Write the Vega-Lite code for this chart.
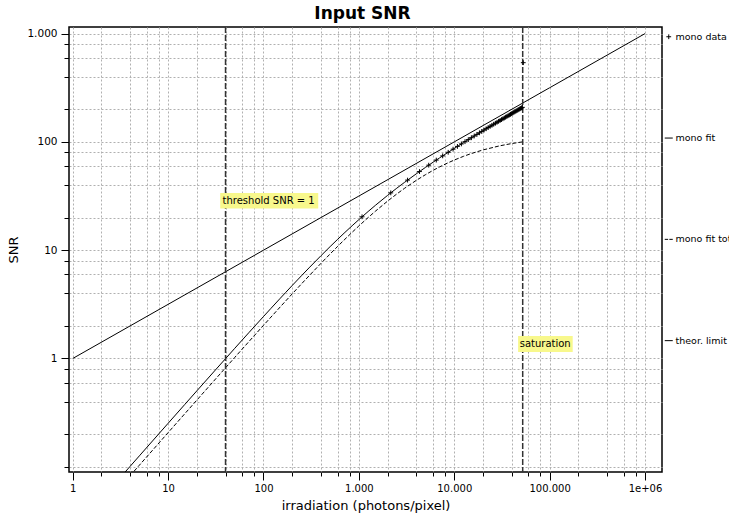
{
  "$schema": "https://vega.github.io/schema/vega-lite/v6.json",
  "autosize": {"type": "none"},
  "padding": {"left": 69, "top": 27, "right": 67, "bottom": 46},
  "width": 593,
  "height": 445,
  "title": {"text": "Input SNR", "fontSize": 17, "fontWeight": "bold", "anchor": "middle", "offset": 3, "dx": -3, "color": "#000"},
  "config": {
    "font": "DejaVu Sans",
    "view": {"stroke": "#000", "strokeWidth": 1.5},
    "axis": {
      "domain": false,
      "grid": true,
      "gridColor": "#b0b0b0",
      "gridDash": [2, 2],
      "gridWidth": 1,
      "tickColor": "#000",
      "tickWidth": 1,
      "labelColor": "#000",
      "titleColor": "#000",
      "labelFontSize": 10.5,
      "titleFontSize": 13,
      "titleFontWeight": "normal",
      "labelOverlap": false,
      "labelFlush": false,
      "labelBound": false
    },
    "legend": {
      "orient": "right",
      "offset": -3,
      "padding": 5,
      "rowPadding": 90.3,
      "symbolSize": 64,
      "symbolStrokeWidth": 1,
      "symbolStrokeColor": "#000",
      "labelFontSize": 9.5,
      "labelOffset": 2,
      "labelLimit": 300,
      "labelColor": "#000"
    }
  },
  "datasets": {
    "theory": [
      {"x": 1, "snr": 1},
      {"x": 10, "snr": 3.162},
      {"x": 100, "snr": 10},
      {"x": 1000, "snr": 31.62},
      {"x": 10000, "snr": 100},
      {"x": 100000, "snr": 316.2},
      {"x": 1000000, "snr": 1000}
    ],
    "fit": [
      {"x": 3, "snr": 0.0758},
      {"x": 4, "snr": 0.101},
      {"x": 5, "snr": 0.1262},
      {"x": 7, "snr": 0.1766},
      {"x": 10, "snr": 0.252},
      {"x": 15, "snr": 0.3773},
      {"x": 20, "snr": 0.5022},
      {"x": 30, "snr": 0.7505},
      {"x": 50, "snr": 1.2418},
      {"x": 70, "snr": 1.7262},
      {"x": 100, "snr": 2.4403},
      {"x": 120, "snr": 2.9083},
      {"x": 150, "snr": 3.5987},
      {"x": 170, "snr": 4.0514},
      {"x": 200, "snr": 4.7198},
      {"x": 250, "snr": 5.8066},
      {"x": 300, "snr": 6.8612},
      {"x": 400, "snr": 8.882},
      {"x": 500, "snr": 10.797},
      {"x": 600, "snr": 12.619},
      {"x": 700, "snr": 14.358},
      {"x": 850, "snr": 16.828},
      {"x": 1000, "snr": 19.154},
      {"x": 1250, "snr": 22.759},
      {"x": 1500, "snr": 26.083},
      {"x": 2000, "snr": 32.073},
      {"x": 2500, "snr": 37.393},
      {"x": 3000, "snr": 42.21},
      {"x": 4000, "snr": 50.742},
      {"x": 5000, "snr": 58.214},
      {"x": 6000, "snr": 64.928},
      {"x": 7000, "snr": 71.066},
      {"x": 8500, "snr": 79.447},
      {"x": 10000, "snr": 87.068},
      {"x": 12500, "snr": 98.52},
      {"x": 15000, "snr": 108.81},
      {"x": 20000, "snr": 126.95},
      {"x": 30000, "snr": 157.14},
      {"x": 40000, "snr": 182.43},
      {"x": 52000, "snr": 208.79}
    ],
    "fitTotal": [
      {"x": 3, "snr": 0.0621},
      {"x": 4, "snr": 0.0828},
      {"x": 5, "snr": 0.1035},
      {"x": 7, "snr": 0.1448},
      {"x": 10, "snr": 0.2067},
      {"x": 15, "snr": 0.3097},
      {"x": 20, "snr": 0.4124},
      {"x": 30, "snr": 0.6171},
      {"x": 50, "snr": 1.0235},
      {"x": 70, "snr": 1.4259},
      {"x": 100, "snr": 2.0222},
      {"x": 120, "snr": 2.415},
      {"x": 150, "snr": 2.9974},
      {"x": 170, "snr": 3.381},
      {"x": 200, "snr": 3.9498},
      {"x": 250, "snr": 4.8806},
      {"x": 300, "snr": 5.7906},
      {"x": 400, "snr": 7.5516},
      {"x": 500, "snr": 9.239},
      {"x": 600, "snr": 10.858},
      {"x": 700, "snr": 12.413},
      {"x": 850, "snr": 14.638},
      {"x": 1000, "snr": 16.742},
      {"x": 1250, "snr": 20.012},
      {"x": 1500, "snr": 23.022},
      {"x": 2000, "snr": 28.396},
      {"x": 2500, "snr": 33.07},
      {"x": 3000, "snr": 37.19},
      {"x": 4000, "snr": 44.153},
      {"x": 5000, "snr": 49.849},
      {"x": 6000, "snr": 54.619},
      {"x": 7000, "snr": 58.685},
      {"x": 8500, "snr": 63.79},
      {"x": 10000, "snr": 67.995},
      {"x": 12500, "snr": 73.59},
      {"x": 15000, "snr": 77.942},
      {"x": 20000, "snr": 84.306},
      {"x": 30000, "snr": 92.025},
      {"x": 40000, "snr": 96.555},
      {"x": 51840, "snr": 99.98}
    ],
    "monoData": [
      {"x": 1080, "snr": 20.34, "series": "mono data"},
      {"x": 2160, "snr": 33.84, "series": "mono data"},
      {"x": 3240, "snr": 44.38, "series": "mono data"},
      {"x": 4320, "snr": 53.23, "series": "mono data"},
      {"x": 5400, "snr": 60.98, "series": "mono data"},
      {"x": 6480, "snr": 67.94, "series": "mono data"},
      {"x": 7560, "snr": 74.3, "series": "mono data"},
      {"x": 8640, "snr": 80.19, "series": "mono data"},
      {"x": 9720, "snr": 85.7, "series": "mono data"},
      {"x": 10800, "snr": 90.88, "series": "mono data"},
      {"x": 11880, "snr": 95.8, "series": "mono data"},
      {"x": 12960, "snr": 100.49, "series": "mono data"},
      {"x": 14040, "snr": 104.97, "series": "mono data"},
      {"x": 15120, "snr": 109.28, "series": "mono data"},
      {"x": 16200, "snr": 113.42, "series": "mono data"},
      {"x": 17280, "snr": 117.42, "series": "mono data"},
      {"x": 18360, "snr": 121.3, "series": "mono data"},
      {"x": 19440, "snr": 125.05, "series": "mono data"},
      {"x": 20520, "snr": 128.69, "series": "mono data"},
      {"x": 21600, "snr": 132.24, "series": "mono data"},
      {"x": 22680, "snr": 135.7, "series": "mono data"},
      {"x": 23760, "snr": 139.07, "series": "mono data"},
      {"x": 24840, "snr": 142.36, "series": "mono data"},
      {"x": 25920, "snr": 145.58, "series": "mono data"},
      {"x": 27000, "snr": 148.72, "series": "mono data"},
      {"x": 28080, "snr": 151.81, "series": "mono data"},
      {"x": 29160, "snr": 154.83, "series": "mono data"},
      {"x": 30240, "snr": 157.8, "series": "mono data"},
      {"x": 31320, "snr": 160.71, "series": "mono data"},
      {"x": 32400, "snr": 163.57, "series": "mono data"},
      {"x": 33480, "snr": 166.38, "series": "mono data"},
      {"x": 34560, "snr": 169.14, "series": "mono data"},
      {"x": 35640, "snr": 171.86, "series": "mono data"},
      {"x": 36720, "snr": 174.54, "series": "mono data"},
      {"x": 37800, "snr": 177.18, "series": "mono data"},
      {"x": 38880, "snr": 179.78, "series": "mono data"},
      {"x": 39960, "snr": 182.34, "series": "mono data"},
      {"x": 41040, "snr": 184.86, "series": "mono data"},
      {"x": 42120, "snr": 187.36, "series": "mono data"},
      {"x": 43200, "snr": 189.82, "series": "mono data"},
      {"x": 44280, "snr": 192.25, "series": "mono data"},
      {"x": 45360, "snr": 194.64, "series": "mono data"},
      {"x": 46440, "snr": 197.01, "series": "mono data"},
      {"x": 47520, "snr": 199.36, "series": "mono data"},
      {"x": 48600, "snr": 201.67, "series": "mono data"},
      {"x": 49680, "snr": 203.96, "series": "mono data"},
      {"x": 50760, "snr": 206.22, "series": "mono data"},
      {"x": 51840, "snr": 208.46, "series": "mono data"},
      {"x": 52920, "snr": 539, "series": "mono data"}
    ],
    "markers": [
      {"name": "threshold SNR = 1", "x": 40},
      {"name": "saturation", "x": 52200}
    ]
  },
  "encoding": {
    "x": {
      "field": "x",
      "type": "quantitative",
      "scale": {"type": "log", "domain": [0.914, 1507000], "nice": false},
      "axis": {
        "title": "irradiation (photons/pixel)",
        "values": [1, 2, 4, 6, 8, 10, 20, 40, 60, 80, 100, 200, 400, 600, 800, 1000, 2000, 4000, 6000, 8000, 10000, 20000, 40000, 60000, 80000, 100000, 200000, 400000, 600000, 800000, 1000000],
        "labelExpr": "datum.value == 1 ? '1' : datum.value == 10 ? '10' : datum.value == 100 ? '100' : datum.value == 1000 ? '1.000' : datum.value == 10000 ? '10.000' : datum.value == 100000 ? '100.000' : datum.value == 1000000 ? '1e+06' : ''",
        "tickSize": {"condition": {"test": "indexof([1, 10, 100, 1000, 10000, 100000, 1000000], datum.value) >= 0", "value": 8}, "value": 4},
        "labelFontSize": 10,
        "labelPadding": 3,
        "titlePadding": 6
      }
    }
  },
  "layer": [
    {
      "data": {"name": "theory"},
      "mark": {"type": "line", "color": "#000", "strokeWidth": 1, "clip": true},
      "encoding": {
        "y": {
          "field": "snr",
          "type": "quantitative",
          "scale": {"type": "log", "domain": [0.0895, 1151], "nice": false},
          "axis": {
            "title": "SNR",
            "values": [0.1, 0.2, 0.4, 0.6, 0.8, 1, 2, 4, 6, 8, 10, 20, 40, 60, 80, 100, 200, 400, 600, 800, 1000],
            "labelExpr": "datum.value == 1 ? '1' : datum.value == 10 ? '10' : datum.value == 100 ? '100' : datum.value == 1000 ? '1.000' : ''",
            "tickSize": {"condition": {"test": "indexof([1, 10, 100, 1000], datum.value) >= 0", "value": 8}, "value": 5},
            "labelPadding": 4,
            "titlePadding": 6
          }
        }
      }
    },
    {
      "data": {"name": "fit"},
      "mark": {"type": "line", "color": "#000", "strokeWidth": 1, "clip": true},
      "encoding": {
        "y": {"field": "snr", "type": "quantitative", "scale": {"type": "log", "domain": [0.0895, 1151], "nice": false}, "axis": {"title": "SNR"}}
      }
    },
    {
      "data": {"name": "fitTotal"},
      "mark": {"type": "line", "color": "#000", "strokeWidth": 1, "strokeDash": [4, 2], "clip": true},
      "encoding": {
        "y": {"field": "snr", "type": "quantitative", "scale": {"type": "log", "domain": [0.0895, 1151], "nice": false}, "axis": {"title": "SNR"}}
      }
    },
    {
      "data": {"name": "markers"},
      "mark": {"type": "rule", "color": "#333", "strokeWidth": 1.5, "strokeDash": [6, 2]},
      "encoding": {}
    },
    {
      "data": {"name": "markers"},
      "transform": [{"filter": "datum.name == 'threshold SNR = 1'"}],
      "mark": {"type": "point", "shape": "M-0.53,-0.77H9.27V0.77H-0.53Z", "size": 400, "filled": true, "color": "#f8f88c", "opacity": 1, "strokeWidth": 0},
      "encoding": {
        "y": {"datum": 28.6, "type": "quantitative", "scale": {"type": "log", "domain": [0.0895, 1151], "nice": false}, "axis": {"title": "SNR"}}
      }
    },
    {
      "data": {"name": "markers"},
      "transform": [{"filter": "datum.name == 'threshold SNR = 1'"}],
      "mark": {"type": "text", "align": "left", "baseline": "middle", "dx": -3, "fontSize": 10, "color": "#000"},
      "encoding": {
        "y": {"datum": 28.6, "type": "quantitative", "scale": {"type": "log", "domain": [0.0895, 1151], "nice": false}, "axis": {"title": "SNR"}},
        "text": {"field": "name"}
      }
    },
    {
      "data": {"name": "markers"},
      "transform": [{"filter": "datum.name == 'saturation'"}],
      "mark": {"type": "point", "shape": "M-0.46,-0.8H5V0.8H-0.46Z", "size": 400, "filled": true, "color": "#f8f88c", "opacity": 1, "strokeWidth": 0},
      "encoding": {
        "y": {"datum": 1.36, "type": "quantitative", "scale": {"type": "log", "domain": [0.0895, 1151], "nice": false}, "axis": {"title": "SNR"}}
      }
    },
    {
      "data": {"name": "markers"},
      "transform": [{"filter": "datum.name == 'saturation'"}],
      "mark": {"type": "text", "align": "left", "baseline": "middle", "dx": -3, "fontSize": 10, "color": "#000"},
      "encoding": {
        "y": {"datum": 1.36, "type": "quantitative", "scale": {"type": "log", "domain": [0.0895, 1151], "nice": false}, "axis": {"title": "SNR"}},
        "text": {"field": "name"}
      }
    },
    {
      "data": {"name": "monoData"},
      "mark": {"type": "point", "filled": false, "color": "#000", "strokeWidth": 1, "size": 64, "opacity": 1, "clip": true},
      "encoding": {
        "y": {"field": "snr", "type": "quantitative", "scale": {"type": "log", "domain": [0.0895, 1151], "nice": false}, "axis": {"title": "SNR"}},
        "shape": {
          "field": "series",
          "type": "nominal",
          "scale": {
            "domain": ["mono data", "mono fit", "mono fit total", "theor. limit"],
            "range": ["M-0.6,0H0.6M0,-0.6V0.6", "M-1,0H1", "M-1,0H-0.15M0.15,0H1", "M-1,0H1"]
          },
          "legend": {"title": null}
        }
      }
    }
  ]
}
